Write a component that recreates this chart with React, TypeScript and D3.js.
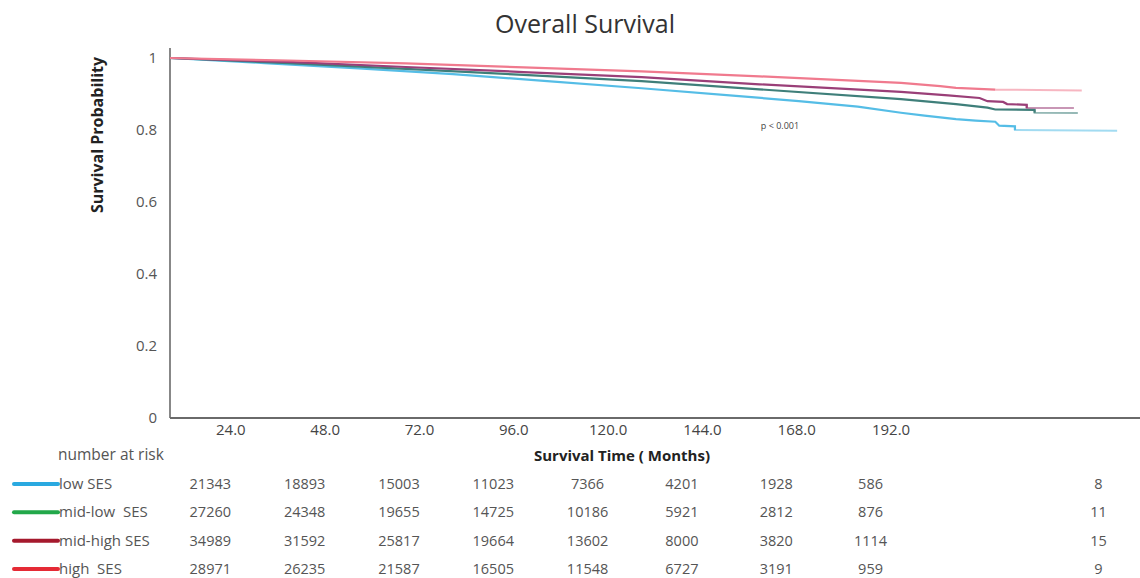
import * as d3 from "d3";
import { useEffect, useRef } from "react";

// survival curves: [month, survival]
const lowSES: [number, number][] = [
  [0, 1], [24, 0.986], [48, 0.971], [72, 0.955], [96, 0.936], [120, 0.916],
  [144, 0.895], [160, 0.88], [175, 0.865], [186, 0.848], [192, 0.84], [200, 0.83],
  [205, 0.826], [210, 0.823], [211, 0.812], [215, 0.81], [215, 0.8], [241, 0.798],
];
const midLowSES: [number, number][] = [
  [0, 1], [30, 0.986], [60, 0.97], [90, 0.953], [120, 0.936], [150, 0.913],
  [186, 0.886], [200, 0.872], [208, 0.862], [210, 0.857], [220, 0.856], [220, 0.848],
  [231, 0.847],
];
const midHighSES: [number, number][] = [
  [0, 1], [30, 0.989], [60, 0.975], [90, 0.961], [120, 0.947], [150, 0.927],
  [186, 0.906], [198, 0.896], [206, 0.889], [208, 0.88], [212, 0.878], [213, 0.872],
  [218, 0.87], [218, 0.861], [230, 0.861],
];
const highSES: [number, number][] = [
  [0, 1], [30, 0.993], [60, 0.985], [90, 0.974], [120, 0.963], [150, 0.949],
  [186, 0.931], [196, 0.922], [200, 0.917], [210, 0.912], [232, 0.91],
];
// month after which each curve is drawn faded (sparse follow-up)
const fadeFrom = [215, 220, 218, 210];

const seriesNames = ["low SES", "mid-low  SES", "mid-high SES", "high  SES"];
const lineColors = ["#55bde6", "#3f7f7a", "#9a3f78", "#f07a8e"];
const legendColors = ["#2aa9e0", "#22a84a", "#a5192d", "#e52a35"];

const xTicks = [24, 48, 72, 96, 120, 144, 168, 192];
const yTicks = [0, 0.2, 0.4, 0.6, 0.8, 1];

const riskTimes = [24, 48, 72, 96, 120, 144, 168, 192, 250];
const riskLow = [21343, 18893, 15003, 11023, 7366, 4201, 1928, 586, 8];
const riskMidLow = [27260, 24348, 19655, 14725, 10186, 5921, 2812, 876, 11];
const riskMidHigh = [34989, 31592, 25817, 19664, 13602, 8000, 3820, 1114, 15];
const riskHigh = [28971, 26235, 21587, 16505, 11548, 6727, 3191, 959, 9];

const layout = { width: 1140, height: 578, l: 170, r: 1140, t: 58, b: 418 };
const font = "'Open Sans', sans-serif";

export default function App() {
  const ref = useRef<SVGSVGElement>(null);

  useEffect(() => {
    const svg = d3.select(ref.current);
    svg.selectAll("*").remove();

    const xScale = d3.scaleLinear().domain([0, 240]).range([layout.l, layout.l + 240 * 3.93]);
    const yScale = d3.scaleLinear().domain([0, 1]).range([layout.b, layout.t]);

    // title
    svg.append("text")
      .attr("x", 585).attr("y", 33)
      .attr("text-anchor", "middle")
      .attr("font-size", 25).attr("fill", "#333")
      .text("Overall Survival");

    // y axis
    const yAxis = svg.append("g").attr("transform", `translate(${layout.l},0)`)
      .call(d3.axisLeft(yScale).tickValues(yTicks).tickSize(0).tickPadding(13)
        .tickFormat((d) => d3.format("")(+d)));
    yAxis.select(".domain").remove();
    yAxis.selectAll("text").attr("font-family", font).attr("font-size", 15).attr("fill", "#555");
    svg.append("line")
      .attr("x1", layout.l).attr("x2", layout.l)
      .attr("y1", 48).attr("y2", layout.b)
      .attr("stroke", "#6a6a6a").attr("stroke-width", 1.6);

    svg.append("text")
      .attr("transform", `translate(103,${135}) rotate(-90)`)
      .attr("text-anchor", "middle")
      .attr("font-size", 16).attr("font-weight", "bold").attr("fill", "#222")
      .text("Survival Probability");

    // x axis
    svg.append("line")
      .attr("x1", layout.l).attr("x2", layout.r)
      .attr("y1", layout.b).attr("y2", layout.b)
      .attr("stroke", "#6a6a6a").attr("stroke-width", 2);
    const xAxis = svg.append("g").attr("transform", `translate(-34,${layout.b})`)
      .call(d3.axisBottom(xScale).tickValues(xTicks).tickSize(0).tickPadding(6)
        .tickFormat(d3.format(".1f")));
    xAxis.select(".domain").remove();
    xAxis.selectAll("text").attr("font-family", font).attr("font-size", 15).attr("fill", "#444");

    svg.append("text")
      .attr("x", 622).attr("y", 461)
      .attr("text-anchor", "middle")
      .attr("font-size", 15).attr("font-weight", "bold").attr("fill", "#222")
      .text("Survival Time ( Months)");

    // curves, with a faded tail
    const line = d3.line<[number, number]>()
      .x((d) => xScale(d[0]))
      .y((d) => yScale(d[1]));
    const curves = [lowSES, midLowSES, midHighSES, highSES];
    curves.forEach((c, i) => {
      const head = c.filter((d) => d[0] <= fadeFrom[i]);
      const tail = c.filter((d) => d[0] >= fadeFrom[i]);
      svg.append("path")
        .datum(head)
        .attr("fill", "none")
        .attr("stroke", lineColors[i])
        .attr("stroke-width", 2.2)
        .attr("d", line);
      svg.append("path")
        .datum(tail)
        .attr("fill", "none")
        .attr("stroke", lineColors[i])
        .attr("stroke-opacity", 0.55)
        .attr("stroke-width", 2)
        .attr("d", line);
    });

    svg.append("text")
      .attr("x", 780).attr("y", 129)
      .attr("text-anchor", "middle")
      .attr("font-size", 9).attr("fill", "#444")
      .text("p < 0.001");

    // number at risk table
    svg.append("text")
      .attr("x", 58).attr("y", 460)
      .attr("font-size", 15.5).attr("fill", "#555")
      .text("number at risk");

    const rowY = d3.scaleLinear().domain([0, 3]).range([484, 569]);
    const riskRows = [riskLow, riskMidLow, riskMidHigh, riskHigh];
    riskRows.forEach((row, i) => {
      const y = rowY(i);
      svg.append("line")
        .attr("x1", 14).attr("x2", 58)
        .attr("y1", y).attr("y2", y)
        .attr("stroke", legendColors[i]).attr("stroke-width", 4)
        .attr("stroke-linecap", "round");
      svg.append("text")
        .attr("x", 59).attr("y", y + 5)
        .attr("font-size", 15).attr("fill", "#555")
        .style("white-space", "pre")
        .text(seriesNames[i]);
      svg.append("g").selectAll("text")
        .data(row)
        .join("text")
        .attr("x", (_, j) => xScale(riskTimes[j]) - 54)
        .attr("y", y + 5)
        .attr("text-anchor", "middle")
        .attr("font-size", 14.5).attr("fill", "#555")
        .text((d) => d);
    });
  }, []);

  return (
    <svg
      ref={ref}
      width={layout.width}
      height={layout.height}
      fontFamily={font}
      style={{ position: "absolute", left: 0, top: 0, background: "#fff" }}
    />
  );
}
